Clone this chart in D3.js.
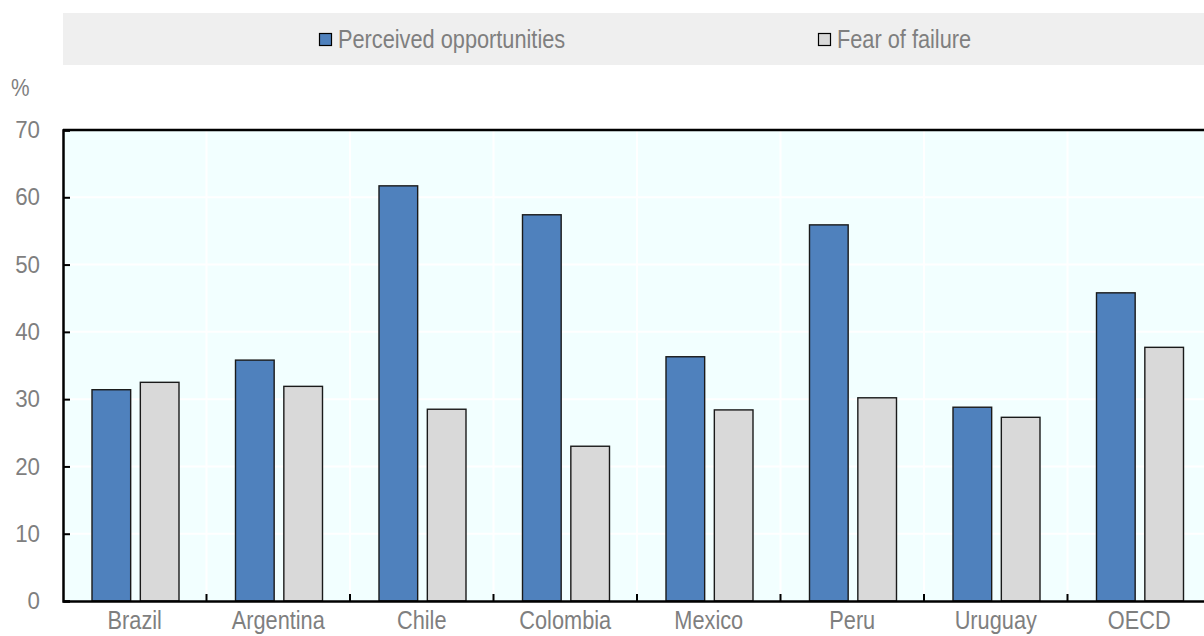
<!DOCTYPE html>
<html><head><meta charset="utf-8">
<script src="https://cdn.jsdelivr.net/npm/d3@7"></script>
<style>
html,body{margin:0;padding:0;background:#fff;overflow:hidden}
svg{display:block}
text{font-family:"Liberation Sans Narrow","Arial Narrow","Liberation Sans",Arial,sans-serif;fill:#7f7f7f}
</style></head>
<body>
<svg id="chart" width="1204" height="636"></svg>
<script>
const categories = ["Brazil","Argentina","Chile","Colombia","Mexico","Peru","Uruguay","OECD"];
const seriesNames = ["Perceived opportunities","Fear of failure"];
const perceivedOpportunities = [31.4, 35.8, 61.7, 57.4, 36.3, 55.9, 28.8, 45.8];
const fearOfFailure = [32.5, 31.9, 28.5, 23.0, 28.4, 30.2, 27.3, 37.7];
const yTicks = [0,10,20,30,40,50,60,70];
const seriesColors = ["#4f81bd","#d9d9d9"];

const FONT = '"Liberation Sans Narrow","Arial Narrow","Liberation Sans",Arial,sans-serif';
const svg = d3.select("#chart");
const M = {left:63, top:130, right:1211, bottom:601};

// horizontally condense text around its anchor (narrow font look)
function narrow(sel, s){
  sel.each(function(){
    const t = d3.select(this);
    const ax = +(t.attr("x") || 0);
    t.attr("transform", `translate(${ax},0) scale(${s},1) translate(${-ax},0)`);
  });
}

const x0 = d3.scaleBand().domain(categories).range([M.left, M.right]).padding(0);
const x1 = d3.scaleBand().domain(seriesNames).range([29, 116]).paddingInner(0.2).paddingOuter(0);
const y = d3.scaleLinear().domain([0,70]).range([M.bottom, M.top]);

// legend
svg.append("rect").attr("x",63).attr("y",13).attr("width",1160).attr("height",52).attr("fill","#efefef");
const legendX = [319, 818];
seriesNames.forEach((s,i)=>{
  svg.append("rect").attr("x",legendX[i]+0.5).attr("y",33.5).attr("width",12).attr("height",12)
    .attr("fill",seriesColors[i]).attr("stroke","#000").attr("stroke-width",1.2);
  svg.append("text").attr("class","lg").attr("x",legendX[i]+19).attr("y",48).attr("font-size",25).text(s);
});
narrow(svg.selectAll("text.lg"), 0.87);

// plot background
svg.append("rect").attr("x",M.left).attr("y",M.top).attr("width",M.right-M.left).attr("height",M.bottom-M.top).attr("fill","#f2ffff");

// gridlines
svg.append("g").selectAll("line").data(yTicks.filter(d=>d>0&&d<70)).join("line")
  .attr("x1",M.left).attr("x2",M.right).attr("y1",d=>y(d)).attr("y2",d=>y(d))
  .attr("stroke","#fff").attr("stroke-width",2);
svg.append("g").selectAll("line").data(categories.slice(1)).join("line")
  .attr("x1",d=>x0(d)).attr("x2",d=>x0(d)).attr("y1",M.top).attr("y2",M.bottom)
  .attr("stroke","#fff").attr("stroke-width",2);

// bars
const rows = categories.map((c,i)=>({cat:c, vals:[perceivedOpportunities[i], fearOfFailure[i]]}));
const g = svg.append("g").selectAll("g").data(rows).join("g").attr("transform",d=>`translate(${x0(d.cat)},0)`);
g.selectAll("rect").data(d=>d.vals.map((v,i)=>({s:seriesNames[i], v, i}))).join("rect")
  .attr("x",d=>x1(d.s)).attr("width",x1.bandwidth())
  .attr("y",d=>y(d.v)).attr("height",d=>y(0)-y(d.v))
  .attr("fill",d=>seriesColors[d.i]).attr("stroke","#1a1a1a").attr("stroke-width",1.4);

// top border
svg.append("line").attr("x1",M.left).attr("x2",M.right).attr("y1",M.top).attr("y2",M.top).attr("stroke","#000").attr("stroke-width",2.5);

// y axis
const yAxis = d3.axisLeft(y).tickValues(yTicks).tickSize(-7).tickPadding(23).tickFormat(d3.format("d"));
const ya = svg.append("g").attr("transform",`translate(${M.left},0)`).call(yAxis);
ya.select(".domain").attr("stroke","#000").attr("stroke-width",2.5);
ya.selectAll(".tick line").attr("stroke","#000").attr("stroke-width",2);
ya.selectAll(".tick text").attr("font-size",24).attr("fill","#7f7f7f").attr("font-family",FONT);
narrow(ya.selectAll(".tick text"), 0.93);

// x axis
const xAxis = d3.axisBottom(x0).tickSize(0).tickPadding(10);
const xa = svg.append("g").attr("transform",`translate(0,${M.bottom})`).call(xAxis);
xa.select(".domain").attr("stroke","#000").attr("stroke-width",2.5);
xa.selectAll(".tick text").attr("font-size",25).attr("fill","#7f7f7f").attr("font-family",FONT);
narrow(xa.selectAll(".tick text"), 0.87);
// x boundary ticks
svg.append("g").selectAll("line").data(categories.slice(1)).join("line")
  .attr("x1",d=>x0(d)).attr("x2",d=>x0(d)).attr("y1",M.bottom).attr("y2",M.bottom-7)
  .attr("stroke","#000").attr("stroke-width",2);

// unit label
svg.append("text").attr("class","unit").attr("x",11).attr("y",96).attr("font-size",24).text("%");
narrow(svg.selectAll("text.unit"), 0.87);
</script>
</body></html>
